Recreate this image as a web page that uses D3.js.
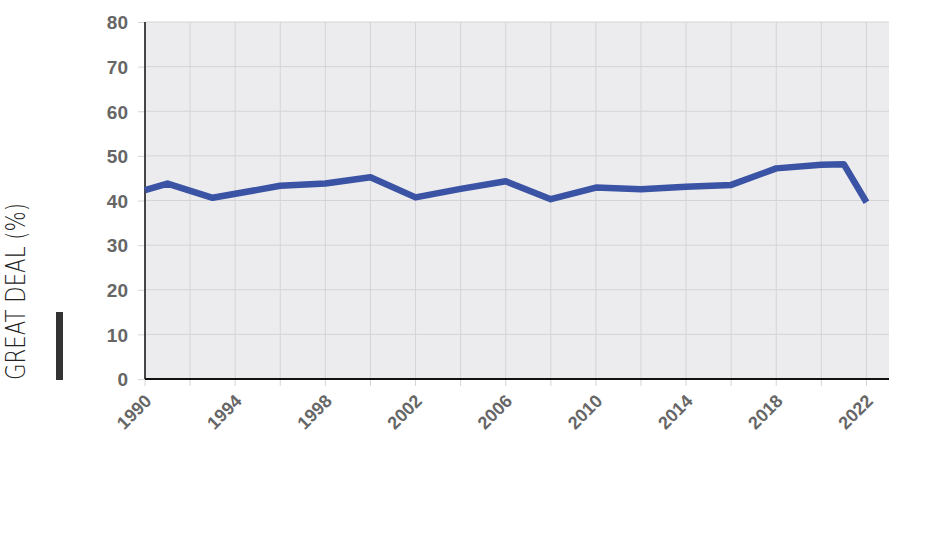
<!DOCTYPE html>
<html>
    <head>
        <title>Great deal (%)</title>
        <script src="https://d3js.org/d3.v7.min.js"></script>
        <style>
            body { margin: 0; background: #fff; }
        </style>
    </head>
    <body>
        <svg width="950" height="540"></svg>
        <script>
            // data
            const years = [1990, 1991, 1993, 1996, 1998, 2000, 2002, 2004, 2006, 2008, 2010, 2012, 2014, 2016, 2018, 2020, 2021, 2022];
            const values = [42.3, 43.8, 40.6, 43.3, 43.8, 45.2, 40.7, 42.6, 44.3, 40.3, 42.9, 42.5, 43.1, 43.5, 47.2, 48.0, 48.1, 39.6];
            const yTicks = [0, 10, 20, 30, 40, 50, 60, 70, 80];
            const xTicks = [1990, 1994, 1998, 2002, 2006, 2010, 2014, 2018, 2022];
            const xGrid = d3.range(1990, 2023, 2);
            const yLabel = "GREAT DEAL (%)";

            const svg = d3.select("svg"),
                margin = { top: 22, right: 61, bottom: 161, left: 145 },
                width = +svg.attr("width") - margin.left - margin.right,
                height = +svg.attr("height") - margin.top - margin.bottom;

            const g = svg.append("g")
                .attr("transform", `translate(${margin.left},${margin.top})`);

            const x = d3.scaleLinear().domain([1990, 2023]).range([0, width]),
                y = d3.scaleLinear().domain([0, 80]).range([height, 0]);

            // plot background
            g.append("rect")
                .attr("width", width)
                .attr("height", height)
                .attr("fill", "#ececee");

            // grid
            g.append("g")
                .selectAll("line")
                .data(yTicks)
                .join("line")
                .attr("x1", 0).attr("x2", width)
                .attr("y1", d => y(d)).attr("y2", d => y(d))
                .attr("stroke", "#d4d4d8").attr("stroke-width", 1);

            g.append("g")
                .selectAll("line")
                .data(xGrid)
                .join("line")
                .attr("x1", d => x(d)).attr("x2", d => x(d))
                .attr("y1", 0).attr("y2", height + 7)
                .attr("stroke", "#d4d4d8").attr("stroke-width", 1);

            const labelFont = "bold 19px 'Liberation Sans', Arial, sans-serif";

            // y axis
            const yAxis = g.append("g")
                .call(d3.axisLeft(y).tickValues(yTicks).tickSize(7).tickPadding(10));
            yAxis.select(".domain").remove();
            yAxis.selectAll(".tick line").attr("stroke", "#d4d4d8");
            yAxis.selectAll("text")
                .attr("fill", "#666")
                .attr("dy", "0.36em")
                .style("font", labelFont);

            // x axis labels
            const xAxis = g.append("g")
                .attr("transform", `translate(0,${height})`)
                .call(d3.axisBottom(x).tickValues(xTicks).tickFormat(d3.format("d")).tickSize(0));
            xAxis.select(".domain").remove();
            xAxis.selectAll("text")
                .attr("fill", "#666")
                .attr("text-anchor", "end")
                .attr("dy", 0)
                .attr("transform", "translate(5,21) rotate(-45)")
                .style("font", "bold 18px 'Liberation Sans', Arial, sans-serif");

            // axis lines
            g.append("line")
                .attr("x1", 0).attr("x2", 0).attr("y1", 0).attr("y2", height)
                .attr("stroke", "#111").attr("stroke-width", 1.5);
            g.append("line")
                .attr("x1", 0).attr("x2", width).attr("y1", height).attr("y2", height)
                .attr("stroke", "#111").attr("stroke-width", 2);

            // the line
            const line = d3.line()
                .x((d, i) => x(years[i]))
                .y(d => y(d));

            g.append("path")
                .datum(values)
                .attr("fill", "none")
                .attr("stroke", "#3a53a4")
                .attr("stroke-width", 6.5)
                .attr("stroke-linejoin", "round")
                .attr("d", line);

            // y title + marker bar
            svg.append("text")
                .attr("transform", "translate(25,380) rotate(-90)")
                .attr("textLength", 177)
                .attr("lengthAdjust", "spacingAndGlyphs")
                .attr("fill", "#222")
                .style("font", "200 27px 'DejaVu Sans', sans-serif")
                .text(yLabel);

            svg.append("rect")
                .attr("x", 56).attr("y", 312)
                .attr("width", 7).attr("height", 68)
                .attr("fill", "#333");
        </script>
    </body>
</html>
